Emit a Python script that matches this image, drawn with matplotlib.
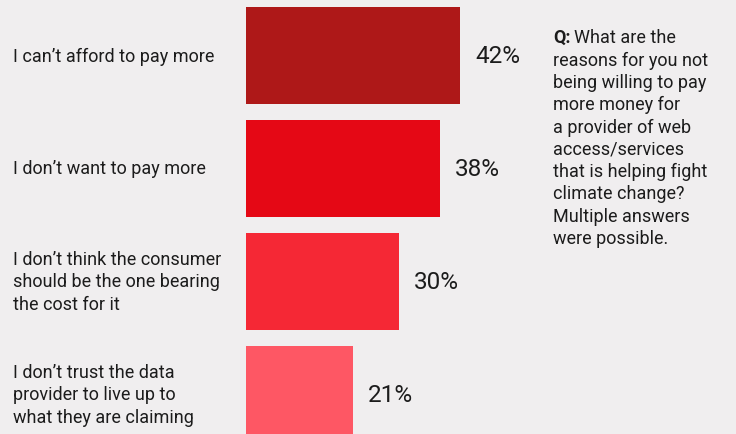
import matplotlib
matplotlib.use("Agg")
import matplotlib.pyplot as plt
from matplotlib.transforms import blended_transform_factory

categories = [
    "I can’t afford to pay more",
    "I don’t want to pay more",
    "I don’t think the consumer\nshould be the one bearing\nthe cost for it",
    "I don’t trust the data\nprovider to live up to\nwhat they are claiming",
]
values = [42, 38, 30, 21]
bar_colors = ["#ae1818", "#e50815", "#f52835", "#fe5764"]
question_lines = [
    "What are the",
    "reasons for you not",
    "being willing to pay",
    "more money for",
    "a provider of web",
    "access/services",
    "that is helping fight",
    "climate change?",
    "Multiple answers",
    "were possible.",
]

BG = "#f0eeef"
TXT = "#1c1c1c"
FONT = "Roboto"

W, H = 736, 435
fig = plt.figure(figsize=(W / 100, H / 100), dpi=100, facecolor=BG)
ax = fig.add_axes([0, 0, 1, 1], facecolor=BG)

px_per_unit = 5.1
left_px = 246
ax.set_xlim(-left_px / px_per_unit, (W - left_px) / px_per_unit)
pitch = 113.0
ax.set_ylim((H - 56.5) / pitch, -56.5 / pitch)

ypos = list(range(len(values)))
ax.barh(ypos, values, height=97 / pitch, color=bar_colors, left=0)

label_tr = blended_transform_factory(fig.transFigure, ax.transData)
for y, cat, v in zip(ypos, categories, values):
    ax.text(13 / W, y, cat, transform=label_tr, ha="left", va="center",
            fontsize=13, color=TXT, family=FONT, linespacing=1.3)
    ax.text(v + 15 / px_per_unit, y, f"{v}%", ha="left", va="center",
            fontsize=17.5, color=TXT, family=FONT)

for s in ax.spines.values():
    s.set_visible(False)
ax.set_xticks([])
ax.set_yticks([])

# Question block on the right, with a bold "Q:" lead-in
qx, qy = 553 / W, 1 - 29 / H
q = fig.text(qx, qy, "Q:", ha="left", va="top", fontsize=13,
             weight="bold", color=TXT, family=FONT)
fig.canvas.draw()
renderer = fig.canvas.get_renderer()
qw = q.get_window_extent(renderer).width
fig.text(qx + (qw + 4) / W, qy, question_lines[0], ha="left", va="top",
         fontsize=13, color=TXT, family=FONT)
fig.text(qx, qy - 22.7 / H, "\n".join(question_lines[1:]), ha="left",
         va="top", fontsize=13, color=TXT, family=FONT, linespacing=1.3)

fig.savefig("out.png", dpi=100, facecolor=BG)
